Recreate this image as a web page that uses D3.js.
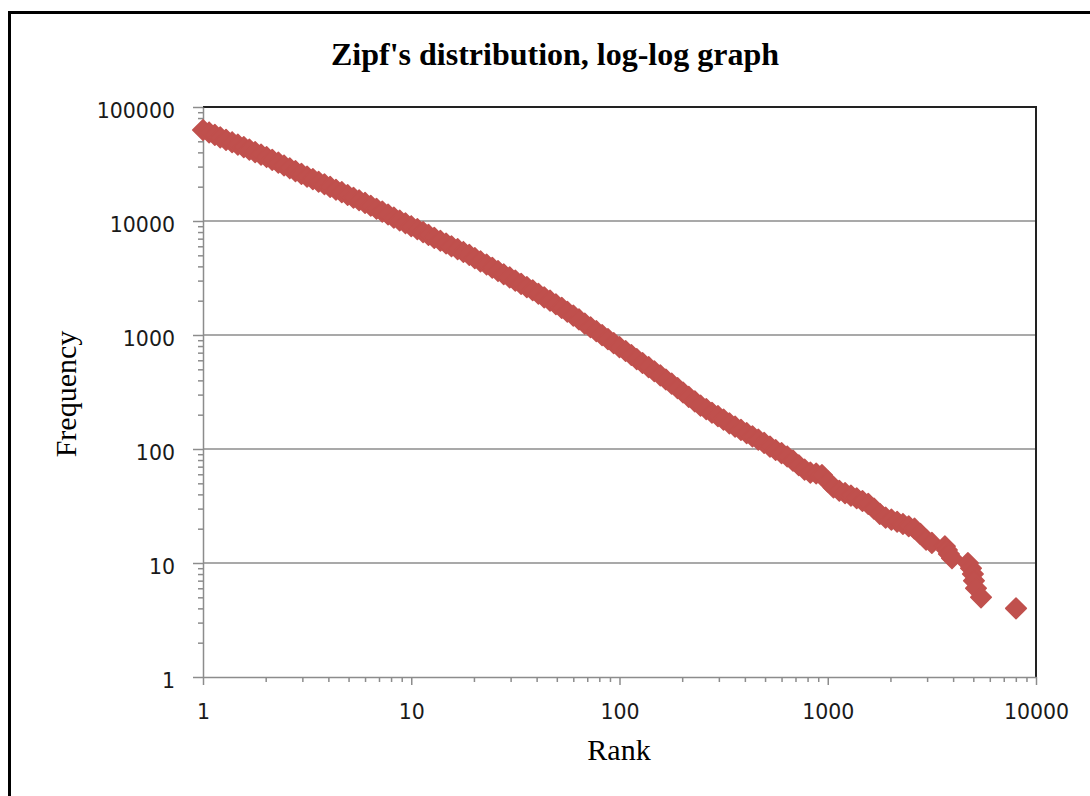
<!DOCTYPE html>
<html>
<head>
<meta charset="utf-8">
<script src="https://cdn.jsdelivr.net/npm/d3@7"></script>
<style>
  body { margin: 0; background: #fff; }
</style>
</head>
<body>
<div id="my_dataviz"></div>
<script>
// values (rank, frequency)
var rank = [
  1, 1.07, 1.14, 1.21, 1.29, 1.38, 1.47, 1.57, 1.67, 1.78, 1.9, 2.02, 2.15, 2.3, 2.45, 2.61, 2.78, 2.97,
  3.16, 3.37, 3.59, 3.83, 4.08, 4.35, 4.64, 4.95, 5.28, 5.62, 6, 6.39, 6.81, 7.26, 7.74, 8.25, 8.8, 9.38, 10,
  10.7, 11.4, 12.1, 12.9, 13.8, 14.7, 15.6, 16.7, 17.8, 19, 20.2, 21.5, 23, 24.5, 26.1, 27.8, 29.7, 31.6,
  33.7, 35.9, 38.3, 40.8, 43.5, 46.4, 49.5, 52.8, 56.2, 60, 63.9, 68.1, 72.6, 77.4, 82.5, 88, 93.8, 100,
  107, 114, 121, 129, 138, 147, 157, 167, 178, 190, 202, 215, 230, 245, 261, 278, 297, 316,
  337, 359, 383, 408, 435, 464, 495, 528, 562, 600, 639, 681, 726, 774, 825, 880, 938, 1000,
  1066, 1136, 1211, 1292, 1377, 1468, 1565, 1668, 1778, 1896, 2021, 2154, 2297, 2448, 2610, 2783, 2967, 3162,
  3651, 3733, 3817, 3950, 4710, 4873, 4977, 5035, 5150, 5445, 8017
];
var frequency = [
  62800, 59800, 56900, 54200, 51500, 49100, 46700, 44500, 42300, 40200, 38200, 36400, 34400, 32500, 30700, 29000, 27400, 25900,
  24500, 23300, 22100, 21000, 19900, 18800, 17900, 16900, 16000, 15200, 14400, 13600, 12800, 12100, 11400, 10700, 10100, 9550, 9000,
  8490, 8000, 7550, 7110, 6710, 6350, 6000, 5660, 5350, 5040, 4720, 4430, 4150, 3890, 3640, 3410, 3200, 3000,
  2810, 2630, 2470, 2300, 2140, 2000, 1860, 1730, 1600, 1480, 1370, 1260, 1170, 1080, 998, 920, 849, 783,
  724, 668, 615, 568, 522, 481, 443, 407, 374, 342, 313, 287, 262, 240, 224, 208, 194, 181,
  168, 157, 147, 138, 129, 121, 113, 105, 98, 92, 86, 79, 72, 66, 62, 61, 59, 52,
  46, 43, 41, 39, 37, 35, 33, 30, 27, 25, 24, 23, 22, 21, 20, 18, 16, 15,
  14, 13, 12, 11, 10, 9, 8, 7, 6, 5, 4
];
var xTicks = [1, 10, 100, 1000, 10000];
var yTicks = [1, 10, 100, 1000, 10000, 100000];

var title = "Zipf's distribution, log-log graph";
var xTitle = "Rank";
var yTitle = "Frequency";

var W = 1090, H = 796;
var plot = {left: 203, right: 1036, top: 107, bottom: 677};
var gridColor = "#8c8c8c";
var markerColor = "#c0504d";

var svg = d3.select("#my_dataviz")
    .append("svg")
    .attr("width", W)
    .attr("height", H)
    .style("display", "block");

// outer frame (runs off the right and bottom edge)
svg.append("rect")
    .attr("x", 9.5).attr("y", 12.5)
    .attr("width", 1200).attr("height", 900)
    .attr("fill", "none")
    .attr("stroke", "#000")
    .attr("stroke-width", 3);

var xScale = d3.scaleLog().domain([1, 10000]).range([plot.left, plot.right]);
var yScale = d3.scaleLog().domain([1, 100000]).range([plot.bottom, plot.top]);

// horizontal gridlines
svg.append("g")
    .selectAll("line")
    .data(yTicks.slice(1, -1))
    .enter()
    .append("line")
    .attr("x1", plot.left).attr("x2", plot.right)
    .attr("y1", function(d) { return yScale(d); })
    .attr("y2", function(d) { return yScale(d); })
    .attr("stroke", gridColor)
    .attr("stroke-width", 1.5);

// top and right edge of the plot area
svg.append("path")
    .attr("d", "M" + plot.left + "," + plot.top + "H" + plot.right + "V" + plot.bottom)
    .attr("fill", "none")
    .attr("stroke", "#222")
    .attr("stroke-width", 2);

var minorX = xScale.ticks().filter(function(d) { return xTicks.indexOf(d) < 0; });
var minorY = yScale.ticks().filter(function(d) { return yTicks.indexOf(d) < 0; });

// minor ticks
svg.append("g")
    .attr("transform", "translate(0," + plot.bottom + ")")
    .call(d3.axisBottom(xScale).tickValues(minorX).tickSize(5).tickFormat(""))
    .call(function(g) { g.select(".domain").remove(); g.selectAll("line").attr("stroke", gridColor).attr("stroke-width", 1.5); });
svg.append("g")
    .attr("transform", "translate(" + plot.left + ",0)")
    .call(d3.axisLeft(yScale).tickValues(minorY).tickSize(5).tickFormat(""))
    .call(function(g) { g.select(".domain").remove(); g.selectAll("line").attr("stroke", gridColor).attr("stroke-width", 1.5); });

// X axis
var xAxis = svg.append("g")
    .attr("transform", "translate(0," + plot.bottom + ")")
    .call(d3.axisBottom(xScale).tickValues(xTicks).tickSize(8).tickSizeOuter(0).tickPadding(19).tickFormat(d3.format("d")));

// Y axis
var yAxis = svg.append("g")
    .attr("transform", "translate(" + plot.left + ",0)")
    .call(d3.axisLeft(yScale).tickValues(yTicks).tickSize(10).tickSizeOuter(0).tickPadding(18).tickFormat(d3.format("d")));

[xAxis, yAxis].forEach(function(g) {
    g.select(".domain").attr("stroke", gridColor).attr("stroke-width", 1.5);
    g.selectAll(".tick line").attr("stroke", gridColor).attr("stroke-width", 1.5);
    g.selectAll(".tick text")
        .attr("fill", "#1a1a1a")
        .style("font-family", "'DejaVu Sans', sans-serif")
        .style("font-size", "20.5px");
});
yAxis.selectAll(".tick text").attr("dy", "0.5em");

// titles
svg.append("text")
    .attr("x", 555).attr("y", 65)
    .attr("text-anchor", "middle")
    .style("font-family", "'Liberation Serif', 'Times New Roman', serif")
    .style("font-weight", "bold")
    .style("font-size", "32px")
    .text(title);

svg.append("text")
    .attr("x", 619).attr("y", 760)
    .attr("text-anchor", "middle")
    .style("font-family", "'Liberation Serif', 'Times New Roman', serif")
    .style("font-size", "30px")
    .text(xTitle);

svg.append("text")
    .attr("transform", "translate(76,394) rotate(-90)")
    .attr("text-anchor", "middle")
    .style("font-family", "'Liberation Serif', 'Times New Roman', serif")
    .style("font-size", "30px")
    .text(yTitle);

// diamond markers
var points = d3.zip(rank, frequency);
svg.append("g")
    .selectAll("path")
    .data(points)
    .enter()
    .append("path")
    .attr("d", "M0,-10.3L10.3,0L0,10.3L-10.3,0Z")
    .attr("transform", function(d) { return "translate(" + xScale(d[0]) + "," + yScale(d[1]) + ")"; })
    .attr("fill", markerColor)
    .attr("stroke", markerColor)
    .attr("stroke-width", 1.5)
    .attr("stroke-linejoin", "round");
</script>
</body>
</html>
